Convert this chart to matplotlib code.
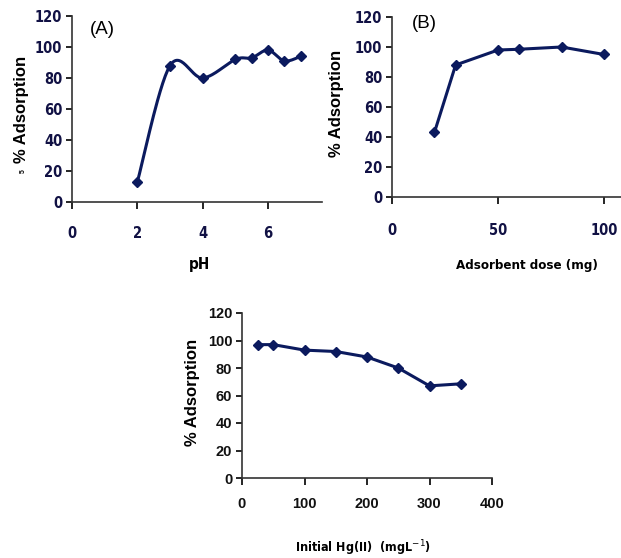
import numpy as np
import matplotlib
matplotlib.use("Agg")
import matplotlib.pyplot as plt

# panel A: effect of pH
ph = [2, 3, 4, 5, 5.5, 6, 6.5, 7]
ads_ph = [13, 88, 80, 92, 93, 98, 91, 94]

# panel B: adsorbent dose
dose = [20, 30, 50, 60, 80, 100]
ads_dose = [43, 88, 98, 98.5, 100, 95]

# panel C: initial Hg(II) concentration
conc = [25, 50, 100, 150, 200, 250, 300, 350]
ads_conc = [97, 97, 93, 92, 88, 80, 67, 68.5]

yticks = [0, 20, 40, 60, 80, 100, 120]
line_col = "#0b1a5e"
arial = ["Liberation Sans", "DejaVu Sans"]
cond = dict(family="DejaVu Sans", stretch="condensed", weight="bold")


def smooth(x, y, n=30):
    # bezier smoothing, control points at 1/6 of neighbour chord (excel-like)
    P = np.column_stack([x, y]).astype(float)
    Q = np.vstack([P[:1], P, P[-1:]])
    t = np.linspace(0, 1, n)[:, None]
    pts = []
    for i in range(len(P) - 1):
        c1 = P[i] + (Q[i + 2] - Q[i]) / 6
        c2 = P[i + 1] - (Q[i + 3] - Q[i + 1]) / 6
        pts.append((1 - t) ** 3 * P[i] + 3 * (1 - t) ** 2 * t * c1 +
                   3 * (1 - t) * t ** 2 * c2 + t ** 3 * P[i + 1])
    pts = np.vstack(pts)
    return pts[:, 0], pts[:, 1]


def style(ax, font, xpad, col):
    for s in ("top", "right"):
        ax.spines[s].set_visible(False)
    for s in ("left", "bottom"):
        ax.spines[s].set_linewidth(1.2)
        ax.spines[s].set_color("#333333")
    ax.set_ylim(0, 120)
    ax.set_yticks(yticks)
    ax.tick_params(axis="y", direction="out", length=4, width=1.2, pad=3)
    ax.tick_params(axis="x", direction="out", length=5, width=1.2, pad=xpad)
    for lab in ax.get_xticklabels() + ax.get_yticklabels():
        lab.set(**font)
        lab.set_color(col)


fig = plt.figure(figsize=(6.21, 5.58), dpi=100)
W, H = 621, 558


def box(l, r, b, t):
    return [l / W, (H - b) / H, (r - l) / W, (b - t) / H]


# (A)
axA = fig.add_axes(box(72, 322, 202, 16))
sx, sy = smooth(ph, ads_ph)
axA.plot(sx, sy, color=line_col, lw=2.2)
axA.plot(ph, ads_ph, ls="none", marker="D", ms=5, color=line_col)
axA.set_xlim(0, 7.65)
axA.set_xticks([0, 2, 4, 6])
style(axA, dict(cond, size=10.5), 12, "#111144")
axA.text(0.55, 111, "(A)", fontsize=13.5, family=arial, va="center")
fig.text(22 / W, 1 - 109 / H, "% Adsorption", rotation=90, ha="center", va="center",
         fontsize=12, fontweight="bold", family=arial)
fig.text(23 / W, 1 - 171 / H, "5", rotation=90, ha="center", va="center",
         fontsize=5, fontweight="bold", family=arial)
fig.text(199 / W, 1 - 265 / H, "pH", ha="center", va="center", size=11, **cond)

# (B)
axB = fig.add_axes(box(392, 621, 197, 17))
axB.plot(dose, ads_dose, color=line_col, lw=2.2, marker="D", ms=5)
axB.set_xlim(0, 108)
axB.set_xticks([0, 50, 100])
style(axB, dict(cond, size=10.5), 14, "#111144")
axB.text(9.4, 116, "(B)", fontsize=13.5, family=arial, va="center")
fig.text(337 / W, 1 - 103 / H, "% Adsorption", rotation=90, ha="center", va="center",
         fontsize=12, fontweight="bold", family=arial)
fig.text(527 / W, 1 - 265 / H, "Adsorbent dose (mg)", ha="center", va="center",
         size=9.5, **cond)

# (C)
axC = fig.add_axes(box(242, 492, 478, 313))
axC.plot(conc, ads_conc, color=line_col, lw=2.2, marker="D", ms=5)
axC.set_xlim(0, 400)
axC.set_xticks([0, 100, 200, 300, 400])
style(axC, dict(family=arial, size=10.5, weight="bold"), 9, "#111111")
fig.text(192 / W, 1 - 392 / H, "% Adsorption", rotation=90, ha="center", va="center",
         fontsize=12, fontweight="bold", family=arial)
fig.text(363 / W, 1 - 548 / H, "Initial Hg(II)  (mgL$^{-1}$)", ha="center", va="center",
         size=9, **cond)

fig.savefig("out.png", dpi=100)
